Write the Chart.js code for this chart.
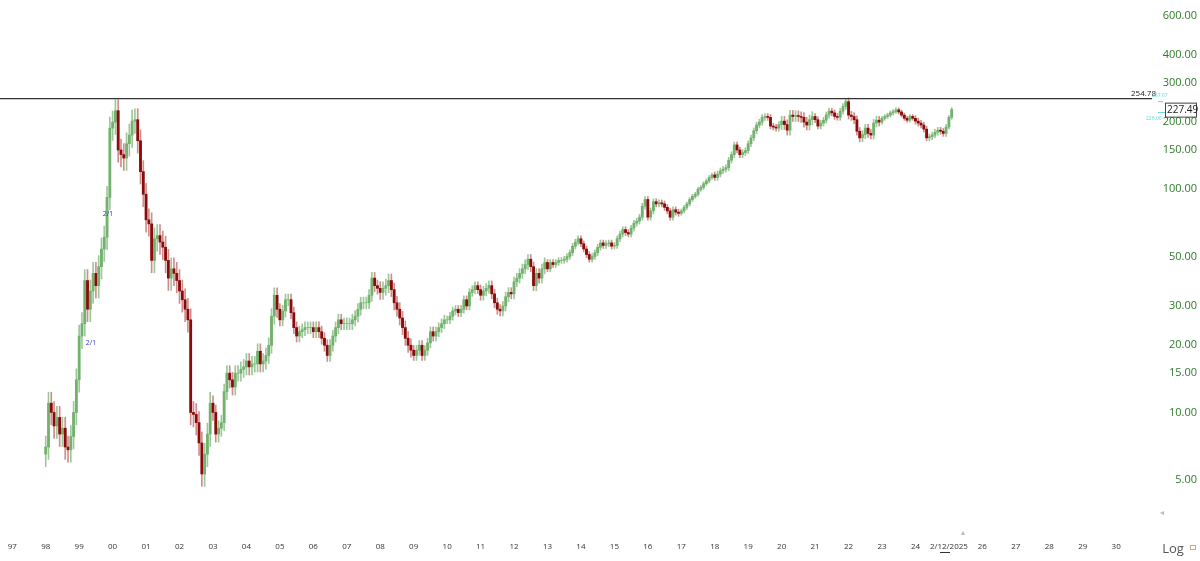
<!DOCTYPE html>
<html>
<head>
<meta charset="utf-8">
<script src="https://cdn.jsdelivr.net/npm/chart.js@4"></script>
<style>
  body { margin: 0; background: #fff; }
  #wrap { width: 1200px; height: 561px; }
</style>
</head>
<body>
<div id="wrap"><canvas id="chart" width="1200" height="561"></canvas></div>
<script>
// monthly closes, Jan 1998 .. Feb 2025
const closes1998 = [7, 11, 10, 8.7, 9.5, 8, 8.5, 7, 6.8, 7.8, 10, 14];
const closes1999 = [22, 25, 39, 29, 35, 42, 37, 45, 54, 61, 92, 188];
const closes2000 = [200, 225, 150, 143, 138, 160, 175, 202, 205, 165, 120, 95];
const closes2001 = [73, 70, 48, 60, 62, 58, 55, 48, 40, 44, 42, 39];
const closes2002 = [35, 32, 29, 26, 10, 9.8, 9, 7.3, 5.3, 6.5, 8, 11];
const closes2003 = [10, 8, 8.5, 9, 12.4, 15, 14, 13, 15, 15, 15.6, 16];
const closes2004 = [17, 16, 16.5, 16.5, 18.8, 16.5, 17, 18, 20, 27, 33.5, 29];
const closes2005 = [26, 28.5, 32, 32, 28, 24, 22, 23, 23.5, 24, 24, 24];
const closes2006 = [23, 24, 23, 21.5, 20, 18, 20, 22, 24, 26, 25, 25];
const closes2007 = [25, 25, 26, 27, 29, 31, 31, 31, 33.5, 40, 37, 36];
const closes2008 = [34.5, 36, 37, 39, 35.5, 31, 29, 26.5, 24, 21.5, 20, 19];
const closes2009 = [18, 19, 20, 18, 19, 20.5, 23, 22, 23, 24, 25, 26];
const closes2010 = [26, 27, 28.5, 29, 28, 29, 32, 30, 34.5, 35.5, 37, 35.5];
const closes2011 = [33.5, 35, 36, 37, 34, 31, 29, 28.5, 30, 33, 34.5, 34];
const closes2012 = [38.5, 40, 42, 44, 46, 48.6, 45, 37, 42, 40, 44, 47];
const closes2013 = [44, 47, 46, 47, 48, 48, 48.6, 50, 52, 55.6, 58, 60];
const closes2014 = [57, 54, 51, 48.6, 50, 52, 55, 57.5, 56, 57, 57.5, 55.6];
const closes2015 = [56, 60, 63, 66, 64, 63, 67, 70.5, 72, 75, 84, 90];
const closes2016 = [75, 80, 88, 86, 87, 86, 83, 80, 75, 81, 79, 78];
const closes2017 = [80, 83, 86, 90, 93, 95, 100, 102, 106, 109, 113, 116];
const closes2018 = [113, 117, 121, 123, 125, 135, 143, 158, 150, 143, 146, 149];
const closes2019 = [160, 170, 183, 194, 200, 210, 212, 210, 192, 190, 188, 195];
const closes2020 = [202, 195, 184, 215, 212, 214, 212, 210, 200, 194, 205, 212];
const closes2021 = [205, 192, 198, 204, 215, 224, 220, 212, 210, 224, 235, 247];
const closes2022 = [215, 212, 205, 182, 170, 176, 188, 178, 175, 198, 204, 200];
const closes2023 = [208, 212, 215, 220, 223, 227, 222, 215, 208, 204, 212, 208];
const closes2024 = [202, 198, 194, 186, 170, 172, 175, 180, 184, 182, 178, 190];
const closes2025 = [210, 227.49];
const firstOpen = 6.5;
// wick size per year (fraction beyond body)
const wickByYear = [0.12, 0.12, 0.12, 0.12, 0.12, 0.08, 0.08, 0.06, 0.06, 0.06, 0.07, 0.05, 0.04, 0.05,
  0.05, 0.03, 0.03, 0.03, 0.03, 0.02, 0.03, 0.03, 0.05, 0.03, 0.04, 0.02, 0.03, 0.02];

const yTicks = [5, 10, 15, 20, 30, 50, 100, 150, 200, 300, 400, 600];
const yearLabels = ['97','98','99','00','01','02','03','04','05','06','07','08','09','10','11','12','13',
  '14','15','16','17','18','19','20','21','22','23','24','2/12/2025','26','27','28','29','30'];
const resistance = 254.78;
const lastPrice = 227.49;

const closes = [].concat(closes1998, closes1999, closes2000, closes2001, closes2002, closes2003,
  closes2004, closes2005, closes2006, closes2007, closes2008, closes2009, closes2010, closes2011,
  closes2012, closes2013, closes2014, closes2015, closes2016, closes2017, closes2018, closes2019,
  closes2020, closes2021, closes2022, closes2023, closes2024, closes2025);

const bodies = [], wicks = [], bodyColors = [], wickColors = [];
closes.forEach((c, i) => {
  const o = i === 0 ? firstOpen : closes[i - 1];
  const w = wickByYear[Math.floor(i / 12)];
  const hi = Math.max(o, c) * (1 + w), lo = Math.min(o, c) * (1 - w);
  const up = c >= o;
  bodies.push({ x: i, y: [Math.min(o, c), Math.max(o, c)] });
  wicks.push({ x: i, y: [lo, hi] });
  bodyColors.push(up ? '#72b26e' : '#8b0a0a');
  wickColors.push(up ? '#9cc898' : '#d08c8c');
});

// axis labels drawn by hand so the plot can use the whole canvas
const overlay = {
  id: 'overlay',
  afterDraw(chart) {
    const ctx = chart.ctx, ys = chart.scales.y, xs = chart.scales.x;
    ctx.save();
    ctx.fillStyle = '#2f7a2a'; ctx.font = '11px "Open Sans"';
    ctx.textAlign = 'right'; ctx.textBaseline = 'middle';
    yTicks.forEach(v => ctx.fillText(v.toFixed(2), 1197, ys.getPixelForValue(v)));
    ctx.fillStyle = '#333'; ctx.font = '8px "Open Sans"'; ctx.textAlign = 'center';
    yearLabels.forEach((l, k) => ctx.fillText(l, xs.getPixelForValue((k - 1) * 12), 547));

    const yr = ys.getPixelForValue(resistance);
    ctx.strokeStyle = '#333'; ctx.lineWidth = 1.2;
    ctx.beginPath(); ctx.moveTo(0, yr); ctx.lineTo(1152, yr); ctx.stroke();
    ctx.font = '8px "Open Sans"'; ctx.fillStyle = '#222'; ctx.textAlign = 'left'; ctx.textBaseline = 'bottom';
    ctx.fillText('254.78', 1131, yr - 1);
    ctx.fillStyle = '#5fd3e6'; ctx.font = '5px "Open Sans"';
    ctx.fillText('257.67', 1152, yr - 1);
    ctx.fillText('226.00', 1146, yr + 22);
    const yl = ys.getPixelForValue(lastPrice);
    ctx.strokeStyle = '#5fd3e6'; ctx.lineWidth = 1;
    ctx.beginPath(); ctx.moveTo(1158, yl - 8); ctx.lineTo(1163, yl - 8); ctx.stroke();
    ctx.beginPath(); ctx.moveTo(1158, yl + 3); ctx.lineTo(1165, yl + 3); ctx.stroke();
    ctx.strokeStyle = '#444'; ctx.fillStyle = '#fff';
    ctx.fillRect(1165, yl - 7, 32, 14); ctx.strokeRect(1165.5, yl - 6.5, 31, 14);
    ctx.fillStyle = '#222'; ctx.font = '10px "Open Sans"'; ctx.textBaseline = 'middle';
    ctx.fillText('227.49', 1167, yl + 0.5);
    // 2/1 markers
    ctx.fillStyle = '#3a3ad0'; ctx.font = '7px "Open Sans"'; ctx.textAlign = 'center';
    ctx.fillText('2/1', 108, 214); ctx.fillText('2/1', 91, 343);
    // misc
    ctx.fillStyle = '#555'; ctx.font = '13px "Open Sans"';
    ctx.fillText('Log', 1173, 549);
    ctx.fillStyle = '#bbb'; ctx.font = '7px "Open Sans"';
    ctx.fillText('◄', 1162, 513); ctx.fillText('▲', 963, 533);
    ctx.strokeStyle = '#f2a060'; ctx.strokeRect(1190.5, 545.5, 5, 4);
    ctx.strokeStyle = '#333';
    ctx.beginPath(); ctx.moveTo(940, 552.5); ctx.lineTo(950, 552.5); ctx.stroke();
    ctx.restore();
  }
};

new Chart(document.getElementById('chart'), {
  type: 'bar',
  data: {
    datasets: [
      { data: wicks, backgroundColor: wickColors, barThickness: 1, grouped: false, order: 2 },
      { data: bodies, backgroundColor: bodyColors, barThickness: 2.2, grouped: false, order: 1 }
    ]
  },
  options: {
    responsive: false,
    animation: false,
    layout: { padding: { top: 0, right: 75, bottom: 36, left: 0 } },
    plugins: { legend: { display: false }, tooltip: { enabled: false } },
    scales: {
      x: {
        type: 'linear', min: -16.4, max: 384.3, offset: false,
        grid: { display: false }, border: { display: false },
        ticks: { display: false }
      },
      y: {
        type: 'logarithmic', position: 'right', min: 3.4, max: 705,
        grid: { display: false }, border: { display: false },
        ticks: { display: false }
      }
    }
  },
  plugins: [overlay]
});
</script>
</body>
</html>
